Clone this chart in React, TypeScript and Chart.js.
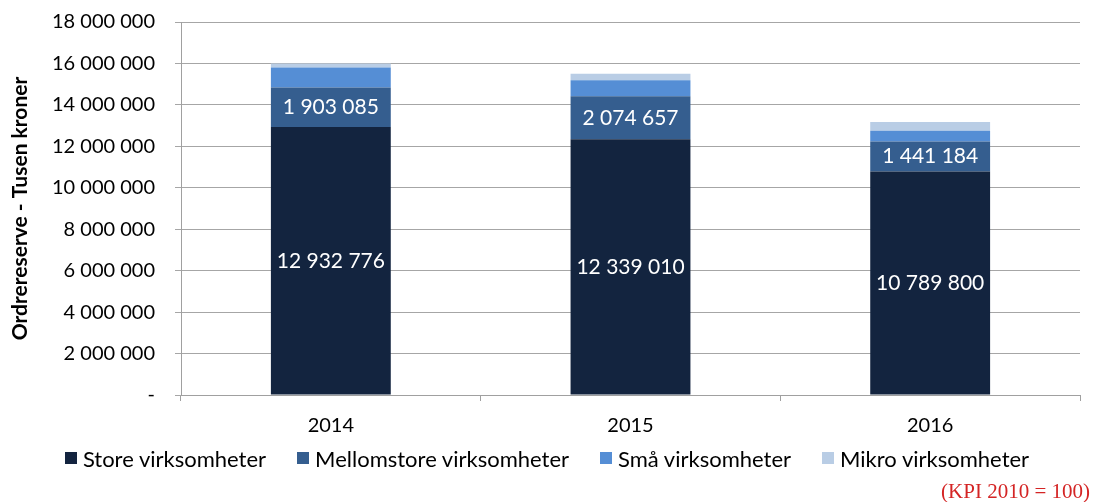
import React, { useEffect, useRef } from "react";
import { Chart, registerables } from "chart.js";

Chart.register(...registerables);

const years = ["2014", "2015", "2016"];
const store = [12932776, 12339010, 10789800];
const mellomstore = [1903085, 2074657, 1441184];
const smaa = [965000, 770000, 520000];
const mikro = [200000, 320000, 420000];
const seriesNames = ["Store virksomheter", "Mellomstore virksomheter", "Små virksomheter", "Mikro virksomheter"];
const seriesColors = ["#13243f", "#355e8f", "#558ed5", "#b9cde5"];
const yTicks = [0, 2000000, 4000000, 6000000, 8000000, 10000000, 12000000, 14000000, 16000000, 18000000];

const FONT = "Lato, 'Liberation Sans', sans-serif";

function fmt(v: number): string {
  if (v === 0) return "-";
  const s = Math.round(v).toString();
  return s.replace(/\B(?=(\d{3})+(?!\d))/g, " ");
}

const labelPlugin = {
  id: "segLabels",
  afterDatasetsDraw(chart: any) {
    const ctx = chart.ctx;
    ctx.save();
    ctx.fillStyle = "#ffffff";
    ctx.font = `21px ${FONT}`;
    ctx.textAlign = "center";
    ctx.textBaseline = "middle";
    [0, 1].forEach((di) => {
      const meta = chart.getDatasetMeta(di);
      meta.data.forEach((el: any, i: number) => {
        const v = chart.data.datasets[di].data[i] as number;
        const y = (el.y + el.base) / 2;
        ctx.fillText(fmt(v), el.x, y);
      });
    });
    ctx.restore();
  },
};

export default function App() {
  const ref = useRef<HTMLCanvasElement>(null);
  useEffect(() => {
    if (!ref.current) return;
    const chart = new Chart(ref.current, {
      type: "bar",
      data: {
        labels: years,
        datasets: [
          { label: seriesNames[0], data: store, backgroundColor: seriesColors[0] },
          { label: seriesNames[1], data: mellomstore, backgroundColor: seriesColors[1] },
          { label: seriesNames[2], data: smaa, backgroundColor: seriesColors[2] },
          { label: seriesNames[3], data: mikro, backgroundColor: seriesColors[3] },
        ],
      },
      options: {
        animation: false,
        responsive: false,
        maintainAspectRatio: false,
        layout: { padding: { left: 8, right: 14, top: 22, bottom: 62 } },
        datasets: { bar: { categoryPercentage: 1, barPercentage: 0.4 } },
        plugins: {
          legend: { display: false },
          tooltip: { enabled: false },
        },
        scales: {
          x: {
            stacked: true,
            grid: { drawOnChartArea: false, drawTicks: true, tickLength: 6, offset: true, color: "#a0a0a0" },
            border: { color: "#a0a0a0" },
            ticks: { font: { family: FONT, size: 20 }, color: "#000000", padding: 13 },
            afterFit: (s: any) => { s.height = 45; },
          },
          y: {
            stacked: true,
            min: 0,
            max: 18000000,
            afterBuildTicks: (s: any) => { s.ticks = yTicks.map((v) => ({ value: v })); },
            grid: { color: "#a6a6a6", tickLength: 6 },
            border: { color: "#a0a0a0" },
            ticks: {
              font: { family: FONT, size: 20 },
              color: "#000000",
              padding: 20,
              callback: (v: any) => fmt(Number(v)),
            },
            title: {
              display: true,
              text: "Ordrereserve - Tusen kroner",
              font: { family: FONT, size: 21, weight: "bold" },
              color: "#000000",
              padding: { top: 0, bottom: 0 },
            },
            afterFit: (s: any) => {
              s.width = 173;
              s.paddingTop = 12;
              s.paddingBottom = 12;
            },
          },
        },
      },
      plugins: [labelPlugin],
    });
    return () => chart.destroy();
  }, []);
  return (
    <div style={{ position: "fixed", left: 0, top: 0, width: 1094, height: 502, background: "#fff" }}>
      <canvas ref={ref} width={1094} height={502} style={{ width: 1094, height: 502, display: "block" }} />
      <div
        style={{
          position: "absolute",
          left: 0,
          top: 444,
          width: 1094,
          height: 28,
          display: "flex",
          justifyContent: "center",
          alignItems: "center",
          gap: 31,
          fontFamily: FONT,
          fontSize: 22,
          color: "#000",
          whiteSpace: "nowrap",
        }}
      >
        {seriesNames.map((n, i) => (
          <div key={n} style={{ display: "flex", alignItems: "center" }}>
            <span style={{ display: "inline-block", width: 12, height: 12, background: seriesColors[i], marginRight: 6 }} />
            <span>{n}</span>
          </div>
        ))}
      </div>
      <div
        style={{
          position: "absolute",
          right: 4,
          top: 480,
          fontFamily: "'Liberation Serif', 'DejaVu Serif', serif",
          fontSize: 21,
          color: "#d42424",
          lineHeight: "22px",
        }}
      >
        (KPI 2010 = 100)
      </div>
    </div>
  );
}
